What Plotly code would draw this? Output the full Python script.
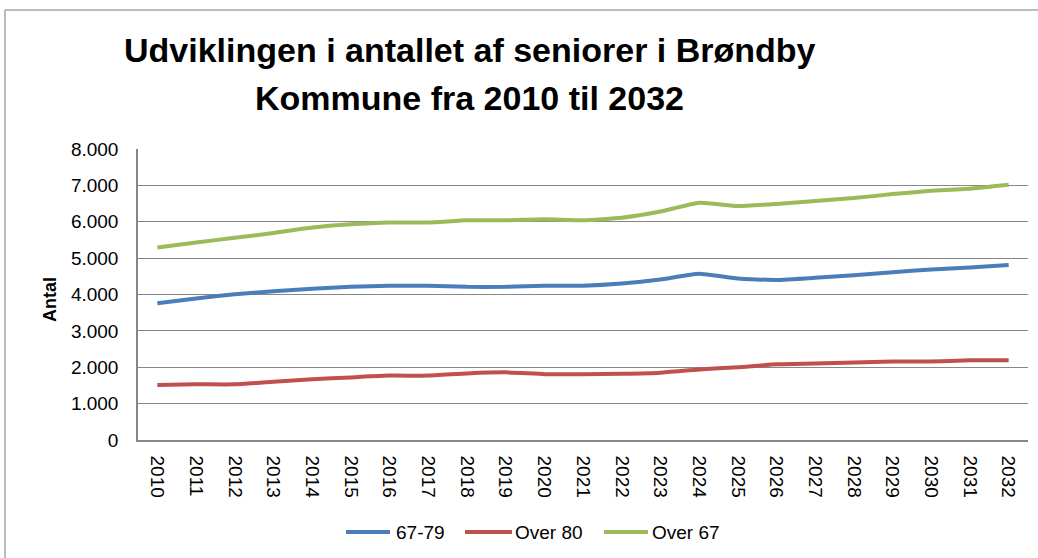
import plotly.graph_objects as go

years = [str(y) for y in range(2010, 2033)]
s_67_79 = [3760, 3890, 4010, 4090, 4160, 4210, 4240, 4240, 4210, 4210, 4240,
           4240, 4300, 4410, 4570, 4440, 4400, 4460, 4530, 4610, 4690, 4740, 4810]
s_over80 = [1510, 1530, 1530, 1600, 1670, 1720, 1770, 1770, 1830, 1860, 1810,
            1810, 1820, 1850, 1940, 2000, 2080, 2100, 2130, 2160, 2160, 2190, 2190]
s_over67 = [5290, 5430, 5560, 5690, 5840, 5930, 5980, 5980, 6040, 6040, 6070,
            6040, 6110, 6280, 6520, 6430, 6490, 6570, 6650, 6760, 6850, 6910, 7020]
series_names = ["67-79", "Over 80", "Over 67"]
colors = ["#4A7EBB", "#C0504D", "#9BBB59"]
y_ticks = [0, 1000, 2000, 3000, 4000, 5000, 6000, 7000, 8000]

W, H = 1038, 558
L, R, T, B = 138, 1028, 149, 440

def px_x(px):
    return (px - L) / (R - L)

def px_y(py):
    return (B - py) / (B - T)

FONT = "Liberation Sans, Arial, sans-serif"

fig = go.Figure()
for name, vals, col in zip(series_names, [s_67_79, s_over80, s_over67], colors):
    fig.add_trace(go.Scatter(x=years, y=vals, name=name, mode="lines", showlegend=False,
                             line=dict(color=col, width=4, shape="spline", smoothing=0.4)))

# legend drawn as line samples + text (positions only)
legend_sample = [(346, 390), (465, 512), (604, 648)]
legend_text_x = [394, 513, 650]
legend_y = 532
shapes = []
annotations = []
for (x0, x1), tx, name, col in zip(legend_sample, legend_text_x, series_names, colors):
    shapes.append(dict(type="line", xref="paper", yref="paper", x0=px_x(x0), x1=px_x(x1),
                       y0=px_y(legend_y), y1=px_y(legend_y), line=dict(color=col, width=4)))
    annotations.append(dict(text=name, x=px_x(tx), y=px_y(legend_y), xref="paper", yref="paper",
                            showarrow=False, xanchor="left", yanchor="middle",
                            font=dict(size=19, family=FONT, color="#000000")))

shapes += [
    dict(type="line", xref="paper", yref="paper", x0=px_x(5), x1=px_x(5), y0=px_y(10), y1=px_y(600),
         line=dict(color="#A6A6A6", width=1.5)),
    dict(type="line", xref="paper", yref="paper", x0=px_x(5), x1=px_x(1100), y0=px_y(10), y1=px_y(10),
         line=dict(color="#A6A6A6", width=1.5)),
]

annotations += [
    dict(text="<b>Udviklingen i antallet af seniorer i Brøndby</b>", x=px_x(470), y=px_y(50),
         xref="paper", yref="paper", showarrow=False, xanchor="center", yanchor="middle",
         font=dict(size=34, family=FONT, color="#000000")),
    dict(text="<b>Kommune fra 2010 til 2032</b>", x=px_x(469), y=px_y(98),
         xref="paper", yref="paper", showarrow=False, xanchor="center", yanchor="middle",
         font=dict(size=34, family=FONT, color="#000000")),
    dict(text="<b>Antal</b>", x=px_x(50), y=px_y(300), xref="paper", yref="paper",
         showarrow=False, textangle=-90, xanchor="center", yanchor="middle",
         font=dict(size=18, family=FONT, color="#000000")),
]

fig.update_layout(
    width=W, height=H,
    margin=dict(l=L, r=W - R, t=T, b=H - B),
    paper_bgcolor="white", plot_bgcolor="white",
    separators=",.",
    font=dict(family=FONT, size=19, color="#000000"),
    showlegend=False,
    xaxis=dict(type="category", tickangle=90, showgrid=False, showline=True,
               linecolor="#878787", linewidth=1.5, ticks="", tickfont=dict(size=19),
               ticklabelstandoff=10, range=[-0.5, len(years) - 0.5]),
    yaxis=dict(range=[0, 8000], tickvals=y_ticks, tickformat=",d", showgrid=True,
               gridcolor="#878787", gridwidth=1.3, showline=True, linecolor="#878787",
               linewidth=1.5, zeroline=False, ticks="", tickfont=dict(size=19),
               ticklabelstandoff=14),
    annotations=annotations,
    shapes=shapes,
)

fig.write_html("out.html")
